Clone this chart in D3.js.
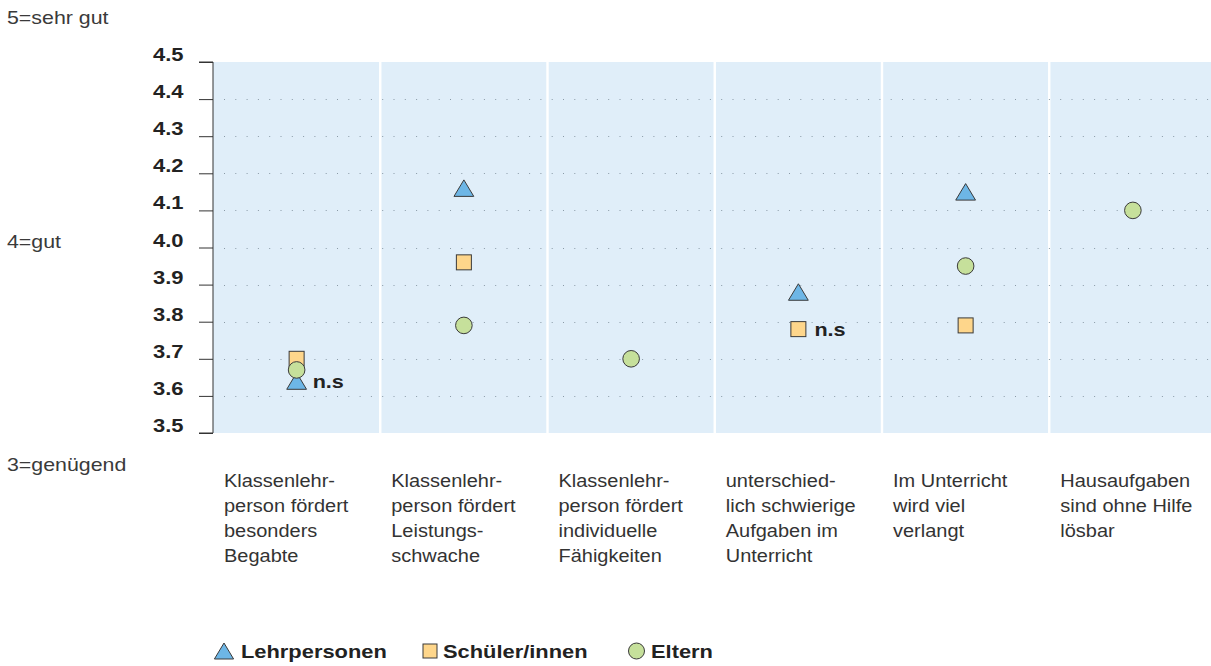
<!DOCTYPE html>
<html><head><meta charset="utf-8">
<script src="https://cdn.jsdelivr.net/npm/d3@7"></script>
<style>body{margin:0;background:#fff}svg{display:block}</style>
</head><body>
<svg id="c" width="1211" height="666"></svg>
<script>
const categories = [
  ["Klassenlehr-","person fördert","besonders","Begabte"],
  ["Klassenlehr-","person fördert","Leistungs-","schwache"],
  ["Klassenlehr-","person fördert","individuelle","Fähigkeiten"],
  ["unterschied-","lich schwierige","Aufgaben im","Unterricht"],
  ["Im Unterricht","wird viel","verlangt"],
  ["Hausaufgaben","sind ohne Hilfe","lösbar"]
];
const lehrpersonen = [3.64, 4.16, null, 3.88, 4.15, null];
const schueler     = [3.70, 3.96, null, 3.78, 3.79, null];
const eltern       = [3.67, 3.79, 3.70, null, 3.95, 4.10];
const nsFlags      = ["n.s", "", "", "n.s", "", ""];
const yTicks = [3.5,3.6,3.7,3.8,3.9,4.0,4.1,4.2,4.3,4.4,4.5];
const scaleLabels = [{v:5,t:"5=sehr gut"},{v:4,t:"4=gut"},{v:3,t:"3=genügend"}];
const seriesNames = ["Lehrpersonen","Schüler/innen","Eltern"];

const svg = d3.select("#c");
const L = 213, R = 1216.5, T = 62, B = 433;
const font = "'Liberation Sans', Arial, Helvetica, sans-serif";
const colors = {tri:"#6db6e6", sq:"#fed68b", circ:"#c6e09b", stroke:"#3a3a3a"};

const x = d3.scaleBand().domain(d3.range(categories.length)).range([L, R]).padding(0);
const y = d3.scaleLinear().domain([3.5, 4.5]).range([B, T]);

// backgrounds
svg.append("g").selectAll("rect").data(d3.range(categories.length)).join("rect")
  .attr("x", i => x(i) + (i===0?0:1.2)).attr("y", T)
  .attr("width", i => x.bandwidth() - (i===0?1.2:2.4)).attr("height", B - T)
  .attr("fill", "#e0eef9");

// dotted gridlines
const gridG = svg.append("g");
yTicks.filter(v => v > 3.5 && v < 4.5).forEach(v => {
  const yy = Math.round(y(v)) + 0.5;
  gridG.append("line").attr("x1", L + 11).attr("x2", R).attr("y1", yy).attr("y2", yy)
    .attr("stroke", "#8a9aa6").attr("stroke-width", 1).attr("stroke-dasharray", "1,10.3");
});

// y axis
const tickSx = 1.22;
const axis = d3.axisLeft(y).tickValues(yTicks).tickFormat(d3.format(".1f")).tickSize(14).tickPadding(16);
const ag = svg.append("g").attr("transform", `translate(${L},0)`).call(axis);
ag.select(".domain").attr("stroke", "#333").attr("d", `M-14,${T}H0V${B}H-14`);
ag.selectAll(".tick line").attr("stroke", "#333");
ag.selectAll(".tick text").attr("font-family", font).attr("font-size", 18)
  .attr("font-weight", "bold").attr("fill", "#222")
  .attr("x", 0).attr("dy", 0).attr("y", 0)
  .attr("transform", `translate(-29.5,-1.5) scale(${tickSx},1)`);

// scale labels
const lab = d3.scaleLinear().domain([3,5]).range([465, 18]);
svg.append("g").selectAll("text").data(scaleLabels).join("text")
  .attr("transform", d => `translate(7,${lab(d.v) + 6.3}) scale(1.22,1)`)
  .attr("font-family", font).attr("font-size", 17.5).attr("fill", "#3a3a3a").text(d => d.t);

// category labels
const cg = svg.append("g");
categories.forEach((lines, i) => {
  const t = cg.append("text").attr("font-family", font).attr("font-size", 18.5).attr("fill", "#333")
    .attr("transform", `translate(${x(i) + 11},486.5) scale(1.08,1)`);
  lines.forEach((ln, j) => {
    t.append("tspan").attr("x", 0).attr("y", j * 25.2).text(ln);
  });
});

// markers
const cx = i => x(i) + x.bandwidth() / 2;
const triPath = (s) => `M0,${-s*0.5}L${s*0.6},${s*0.5}L${-s*0.6},${s*0.5}Z`;
const mg = svg.append("g");
mg.selectAll(".sq").data(schueler.map((v,i)=>({v,i})).filter(d=>d.v!=null)).join("rect")
  .attr("x", d => cx(d.i) - 7.5).attr("y", d => y(d.v) - 7.5).attr("width", 15).attr("height", 15)
  .attr("fill", colors.sq).attr("stroke", colors.stroke).attr("stroke-width", 1);
mg.selectAll(".tr").data(lehrpersonen.map((v,i)=>({v,i})).filter(d=>d.v!=null)).join("path")
  .attr("transform", d => `translate(${cx(d.i)},${y(d.v)})`).attr("d", triPath(16.5))
  .attr("fill", colors.tri).attr("stroke", colors.stroke).attr("stroke-width", 1);
mg.selectAll(".ci").data(eltern.map((v,i)=>({v,i})).filter(d=>d.v!=null)).join("circle")
  .attr("cx", d => cx(d.i)).attr("cy", d => y(d.v)).attr("r", 8.3)
  .attr("fill", colors.circ).attr("stroke", colors.stroke).attr("stroke-width", 1);

// n.s labels
nsFlags.forEach((f, i) => {
  if (!f) return;
  const vals = [lehrpersonen[i], schueler[i], eltern[i]].filter(v => v != null);
  const yy = i === 0 ? y(d3.min(vals)) : y(schueler[i]);
  svg.append("text").attr("transform", `translate(${cx(i) + 16},${yy + 6.8}) scale(1.2,1)`)
    .attr("font-family", font).attr("font-size", 18).attr("font-weight", "bold")
    .attr("fill", "#222").text(f);
});

// legend
const lg = svg.append("g").attr("font-family", font).attr("font-size", 17.5).attr("font-weight", "bold").attr("fill", "#222");
const ly = 651;
const legX = [224, 430, 636.5];
const legSx = 1.25;
lg.append("path").attr("transform", `translate(${legX[0]},${ly})`).attr("d", triPath(16))
  .attr("fill", colors.tri).attr("stroke", colors.stroke);
lg.append("text").attr("transform", `translate(${legX[0] + 17},${ly + 7}) scale(${legSx},1)`).text(seriesNames[0]);
lg.append("rect").attr("x", legX[1] - 7).attr("y", ly - 7).attr("width", 14).attr("height", 14)
  .attr("fill", colors.sq).attr("stroke", colors.stroke);
lg.append("text").attr("transform", `translate(${legX[1] + 13},${ly + 7}) scale(${legSx},1)`).text(seriesNames[1]);
lg.append("circle").attr("cx", legX[2]).attr("cy", ly).attr("r", 8)
  .attr("fill", colors.circ).attr("stroke", colors.stroke);
lg.append("text").attr("transform", `translate(${legX[2] + 14.5},${ly + 7}) scale(${legSx},1)`).text(seriesNames[2]);
</script>
</body></html>
